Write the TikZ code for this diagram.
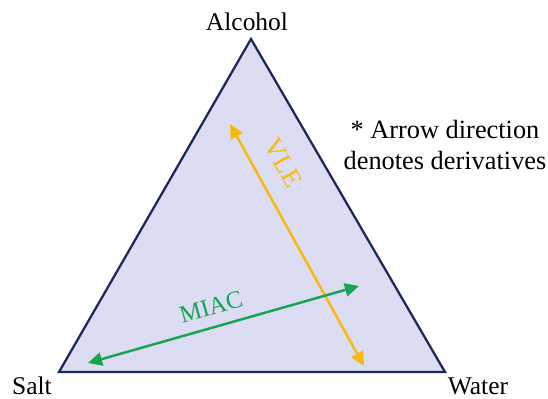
\documentclass[tikz,border=0pt]{standalone}
\usepackage{fontspec}
\setmainfont{Liberation Serif}
\newfontfamily\labelfont{Liberation Serif}
\usetikzlibrary{arrows.meta, positioning}

\definecolor{edgeblue}{HTML}{1B2A5E}
\definecolor{fillblue}{HTML}{DCDCF2}
\definecolor{vleyellow}{HTML}{F7B90A}
\definecolor{miacgreen}{HTML}{17A551}

\begin{document}
\begin{tikzpicture}[x=0.02cm, y=-0.02cm, every node/.style={font=\labelfont\fontsize{14.5pt}{17pt}\selectfont}]
\tikzstyle{corner} = [inner sep=1pt]
\tikzstyle{tag} = [inner sep=0pt, font=\labelfont\fontsize{14pt}{16pt}\selectfont]
\tikzstyle{arrow} = [line width=1.4pt, {Triangle[length=8pt, width=7.5pt]}-{Triangle[length=8pt, width=7.5pt]}]
\useasboundingbox (0,0) rectangle (548,399);

% Triangle corners
\coordinate (top) at (251,39);
\coordinate (left) at (59,372);
\coordinate (right) at (445,372);
\draw [edgeblue, fill=fillblue, line width=1.3pt, line join=miter] (top) -- (left) -- (right) -- cycle;

% Corner labels
\node (alcohol) [corner] at (247,22) {Alcohol};
\node (salt) [corner] at (32,386) {Salt};
\node (water) [corner] at (478,386) {Water};

% Note
\node (note) [align=center, font=\labelfont\fontsize{15pt}{17.5pt}\selectfont] at (445,145) {* Arrow direction\\denotes derivatives};

% Arrows
\coordinate (vletop) at (230,124);
\coordinate (vlebot) at (364,366);
\coordinate (miacleft) at (88,363);
\coordinate (miacright) at (359,286);
\draw [arrow, vleyellow] (vletop) -- (vlebot);
\draw [arrow, miacgreen] (miacleft) -- (miacright);

% Arrow labels
\node (vle) [tag, text=vleyellow, font=\labelfont\fontsize{15pt}{17pt}\selectfont, rotate=-61] at (283,163) {VLE};
\node (miac) [tag, text=miacgreen, rotate=16] at (211,307) {MIAC};

\end{tikzpicture}
\end{document}
